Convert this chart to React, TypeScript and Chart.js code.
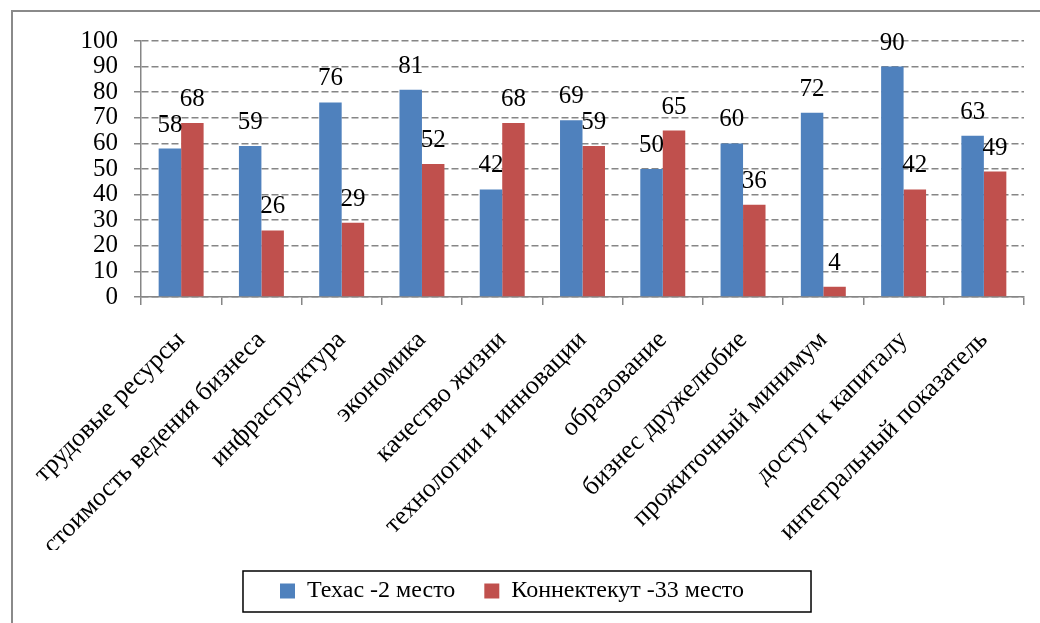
import { useEffect, useRef } from "react";
import { Chart, registerables } from "chart.js";

Chart.register(...registerables);

const categories = [
  "трудовые ресурсы",
  "стоимость ведения бизнеса",
  "инфраструктура",
  "экономика",
  "качество жизни",
  "технологии и инновации",
  "образование",
  "бизнес дружелюбие",
  "прожиточный минимум",
  "доступ к капиталу",
  "интегральный показатель",
];
const texasValues = [58, 59, 76, 81, 42, 69, 50, 60, 72, 90, 63];
const connecticutValues = [68, 26, 29, 52, 68, 59, 65, 36, 4, 42, 49];
const seriesNames = ["Техас -2 место", "Коннектекут -33 место"];
const seriesColors = ["#4F81BD", "#C0504D"];
const yMin = 0;
const yMax = 100;
const yStep = 10;

const FONT = "'Liberation Serif', 'Times New Roman', serif";
const GRID = "#868686";

const valueLabels = {
  id: "valueLabels",
  afterDatasetsDraw(chart: any) {
    const ctx = chart.ctx;
    ctx.save();
    ctx.font = `25px ${FONT}`;
    ctx.fillStyle = "#000";
    ctx.textAlign = "center";
    ctx.textBaseline = "alphabetic";
    chart.data.datasets.forEach((ds: any, di: number) => {
      const meta = chart.getDatasetMeta(di);
      meta.data.forEach((bar: any, i: number) => {
        ctx.fillText(String(ds.data[i]), bar.x, bar.y - 17);
      });
    });
    ctx.restore();
  },
};

const legendFrame = {
  id: "legendFrame",
  afterDraw(chart: any) {
    const lg = chart.legend;
    const hb = lg && lg.legendHitBoxes;
    if (!hb || !hb.length) return;
    const first = hb[0];
    const last = hb[hb.length - 1];
    const left = first.left - 37;
    const right = last.left + last.width + 67;
    const bottom = lg.bottom - 1;
    const top = bottom - 41;
    const ctx = chart.ctx;
    ctx.save();
    ctx.strokeStyle = "#000";
    ctx.lineWidth = 1.5;
    ctx.strokeRect(left, top, right - left, bottom - top);
    ctx.restore();
  },
};

export default function App() {
  const canvasRef = useRef<HTMLCanvasElement | null>(null);

  useEffect(() => {
    if (!canvasRef.current) return;
    const chart = new Chart(canvasRef.current, {
      type: "bar",
      data: {
        labels: categories,
        datasets: [
          {
            label: seriesNames[0],
            data: texasValues,
            backgroundColor: seriesColors[0],
            borderWidth: 0,
            categoryPercentage: 0.56,
            barPercentage: 1.0,
          },
          {
            label: seriesNames[1],
            data: connecticutValues,
            backgroundColor: seriesColors[1],
            borderWidth: 0,
            categoryPercentage: 0.56,
            barPercentage: 1.0,
          },
        ],
      },
      options: {
        animation: false,
        responsive: true,
        maintainAspectRatio: false,
        layout: { padding: { top: 41, left: 0, right: 16, bottom: 10 } },
        plugins: {
          tooltip: { enabled: false },
          legend: {
            position: "bottom",
            labels: {
              boxWidth: 15,
              boxHeight: 15,
              padding: 29,
              color: "#000",
              font: { family: FONT, size: 24 },
            },
          },
        },
        scales: {
          x: {
            afterFit(scale: any) {
              scale.height = 253;
            },
            grid: {
              display: true,
              drawOnChartArea: false,
              drawTicks: true,
              tickLength: 8,
              color: GRID,
              lineWidth: 1.5,
            },
            border: { display: true, color: GRID, width: 1.5 },
            ticks: {
              autoSkip: false,
              maxRotation: 45,
              minRotation: 45,
              padding: 20,
              color: "#000",
              font: { family: FONT, size: 26 },
            },
          },
          y: {
            min: yMin,
            max: yMax,
            afterFit(scale: any) {
              scale.width = 141;
            },
            grid: {
              color: GRID,
              lineWidth: 1.5,
              tickLength: 7,
              tickBorderDash: [7, 3],
            },
            border: { display: true, color: GRID, width: 1.5, dash: [7, 3] },
            ticks: {
              stepSize: yStep,
              autoSkip: false,
              padding: 16,
              color: "#000",
              font: { family: FONT, size: 25 },
            },
          },
        },
      },
      plugins: [valueLabels, legendFrame],
    });
    return () => chart.destroy();
  }, []);

  return (
    <div
      style={{
        position: "fixed",
        left: 0,
        top: 0,
        width: 1040,
        height: 623,
        overflow: "hidden",
        background: "#fff",
      }}
    >
      <div
        style={{
          position: "absolute",
          left: 11,
          top: 10,
          width: 1200,
          height: 800,
          borderLeft: "2px solid #8a8a8a",
          borderTop: "2px solid #8a8a8a",
        }}
      />
      <div style={{ position: "absolute", left: 0, top: 0, width: 1040, height: 623 }}>
        <canvas ref={canvasRef} />
      </div>
    </div>
  );
}
